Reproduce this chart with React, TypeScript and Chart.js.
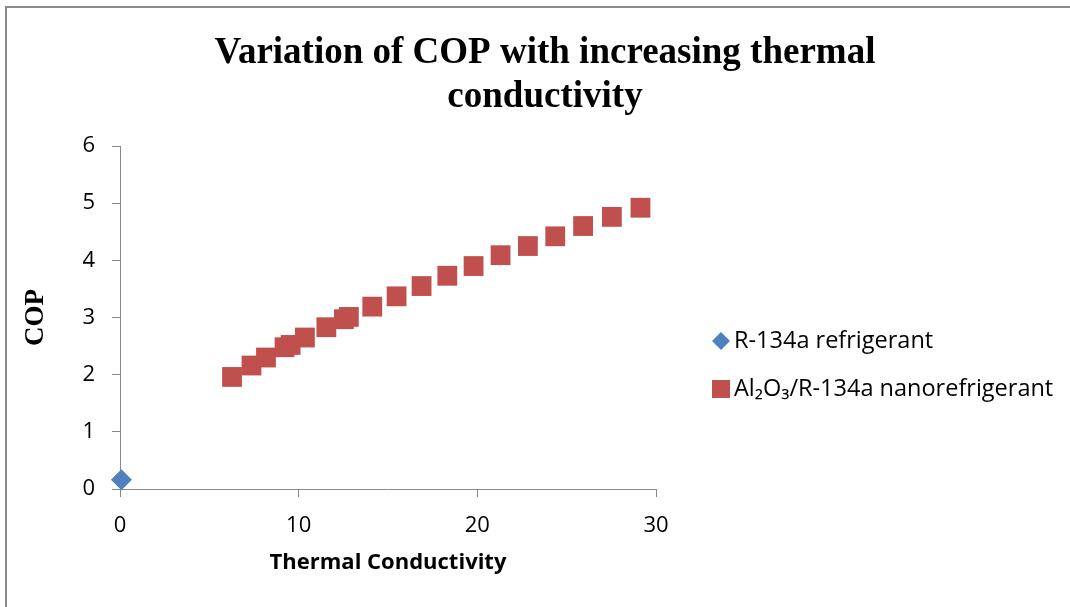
import React, { useEffect, useRef } from 'react';
import { Chart, registerables } from 'chart.js';

Chart.register(...registerables);

const TITLE_LINES = ['Variation of COP with increasing thermal', 'conductivity'];
const X_TITLE = 'Thermal Conductivity';
const Y_TITLE = 'COP';
const SERIES_NAMES = ['R-134a refrigerant', 'Al₂O₃/R-134a nanorefrigerant'];
const SERIES_COLORS = ['#4F81BD', '#C0504D'];
const R134A_X = [0.08];
const R134A_Y = [0.16];
const NANO_X = [6.27, 7.36, 8.17, 9.21, 9.55, 10.35, 11.55, 12.53, 12.81, 14.12, 15.48, 16.88, 18.32, 19.79, 21.3, 22.83, 24.36, 25.92, 27.53, 29.13];
const NANO_Y = [1.96, 2.16, 2.3, 2.48, 2.52, 2.65, 2.83, 2.97, 3.01, 3.19, 3.37, 3.55, 3.73, 3.9, 4.09, 4.25, 4.42, 4.6, 4.76, 4.92];
const X_MIN = 0;
const X_MAX = 30;
const X_STEP = 10;
const Y_MIN = 0;
const Y_MAX = 6;
const Y_STEP = 1;

const AXIS_GRAY = '#898989';
const SANS = '"Open Sans", "DejaVu Sans", sans-serif';
const SERIF = '"Liberation Serif", "Times New Roman", serif';

const decorPlugin = {
  id: 'decor',
  beforeDraw(chart: any) {
    const ctx = chart.ctx;
    ctx.save();
    ctx.fillStyle = '#ffffff';
    ctx.fillRect(0, 0, chart.width, chart.height);
    ctx.fillStyle = AXIS_GRAY;
    ctx.fillRect(5, 6, chart.width - 5, 2);
    ctx.fillRect(5, 6, 2, chart.height - 6);
    ctx.restore();
  },
  afterDraw(chart: any) {
    const ctx = chart.ctx;
    ctx.save();
    // title
    ctx.fillStyle = '#000';
    ctx.font = `bold 37px ${SERIF}`;
    ctx.textAlign = 'center';
    ctx.textBaseline = 'alphabetic';
    ctx.fillText(TITLE_LINES[0], 545, 63);
    ctx.fillText(TITLE_LINES[1], 545, 107);
    // legend
    const lx = 721;
    chart.data.datasets.forEach((ds: any, i: number) => {
      const cy = 341 + i * 48;
      ctx.fillStyle = ds.backgroundColor;
      ctx.beginPath();
      if (ds.pointStyle === 'rectRot') {
        const r = 9;
        ctx.moveTo(lx - r, cy);
        ctx.lineTo(lx, cy - r);
        ctx.lineTo(lx + r, cy);
        ctx.lineTo(lx, cy + r);
        ctx.closePath();
      } else {
        const s = 9;
        ctx.rect(lx - s, cy - s, 2 * s, 2 * s);
      }
      ctx.fill();
      ctx.fillStyle = '#000';
      ctx.font = `23.5px ${SANS}`;
      ctx.textAlign = 'left';
      ctx.textBaseline = 'middle';
      ctx.fillText(ds.label, 734, cy);
    });
    ctx.restore();
  },
};

export default function App() {
  const ref = useRef<HTMLCanvasElement | null>(null);
  useEffect(() => {
    if (!ref.current) return;
    const chart = new Chart(ref.current, {
      type: 'scatter',
      data: {
        datasets: [
          {
            label: SERIES_NAMES[0],
            data: R134A_X.map((x, i) => ({ x, y: R134A_Y[i] })),
            backgroundColor: SERIES_COLORS[0],
            borderColor: SERIES_COLORS[0],
            borderWidth: 0,
            pointStyle: 'rectRot',
            pointRadius: 10.5,
            clip: false,
          },
          {
            label: SERIES_NAMES[1],
            data: NANO_X.map((x, i) => ({ x, y: NANO_Y[i] })),
            backgroundColor: SERIES_COLORS[1],
            borderColor: SERIES_COLORS[1],
            borderWidth: 0,
            pointStyle: 'rect',
            pointRadius: 14,
            clip: false,
          },
        ],
      },
      options: {
        animation: false,
        responsive: false,
        devicePixelRatio: 1,
        layout: { padding: { top: 146, right: 414, bottom: 0, left: 0 } },
        plugins: {
          legend: { display: false },
          title: { display: false },
          tooltip: { enabled: false },
        },
        scales: {
          x: {
            type: 'linear',
            min: X_MIN,
            max: X_MAX,
            ticks: { stepSize: X_STEP, color: '#000', padding: 16, font: { family: SANS, size: 22 } },
            grid: { drawOnChartArea: false, drawTicks: true, tickLength: 8, color: AXIS_GRAY, lineWidth: 1 },
            border: { display: true, color: AXIS_GRAY, width: 1 },
            title: {
              display: true,
              text: X_TITLE,
              color: '#000',
              font: { family: SANS, size: 22, weight: 'bold', lineHeight: 1 },
              padding: { top: 0, bottom: 33 },
            },
            afterFit: (s: any) => { s.height = 118; },
          },
          y: {
            type: 'linear',
            min: Y_MIN,
            max: Y_MAX,
            ticks: { stepSize: Y_STEP, color: '#000', padding: 17, font: { family: SANS, size: 22 } },
            grid: { drawOnChartArea: false, drawTicks: true, tickLength: 8, color: AXIS_GRAY, lineWidth: 1 },
            border: { display: true, color: AXIS_GRAY, width: 1 },
            title: {
              display: true,
              text: Y_TITLE,
              color: '#000',
              font: { family: SERIF, size: 27, weight: 'bold', lineHeight: 1 },
              padding: { top: 23, bottom: 0 },
            },
            afterFit: (s: any) => { s.width = 120; },
          },
        },
      },
      plugins: [decorPlugin],
    });
    return () => chart.destroy();
  }, []);
  return (
    <div style={{ position: 'absolute', left: 0, top: 0, width: 1070, height: 607 }}>
      <canvas ref={ref} width={1070} height={607} style={{ display: 'block', width: 1070, height: 607 }} />
    </div>
  );
}
